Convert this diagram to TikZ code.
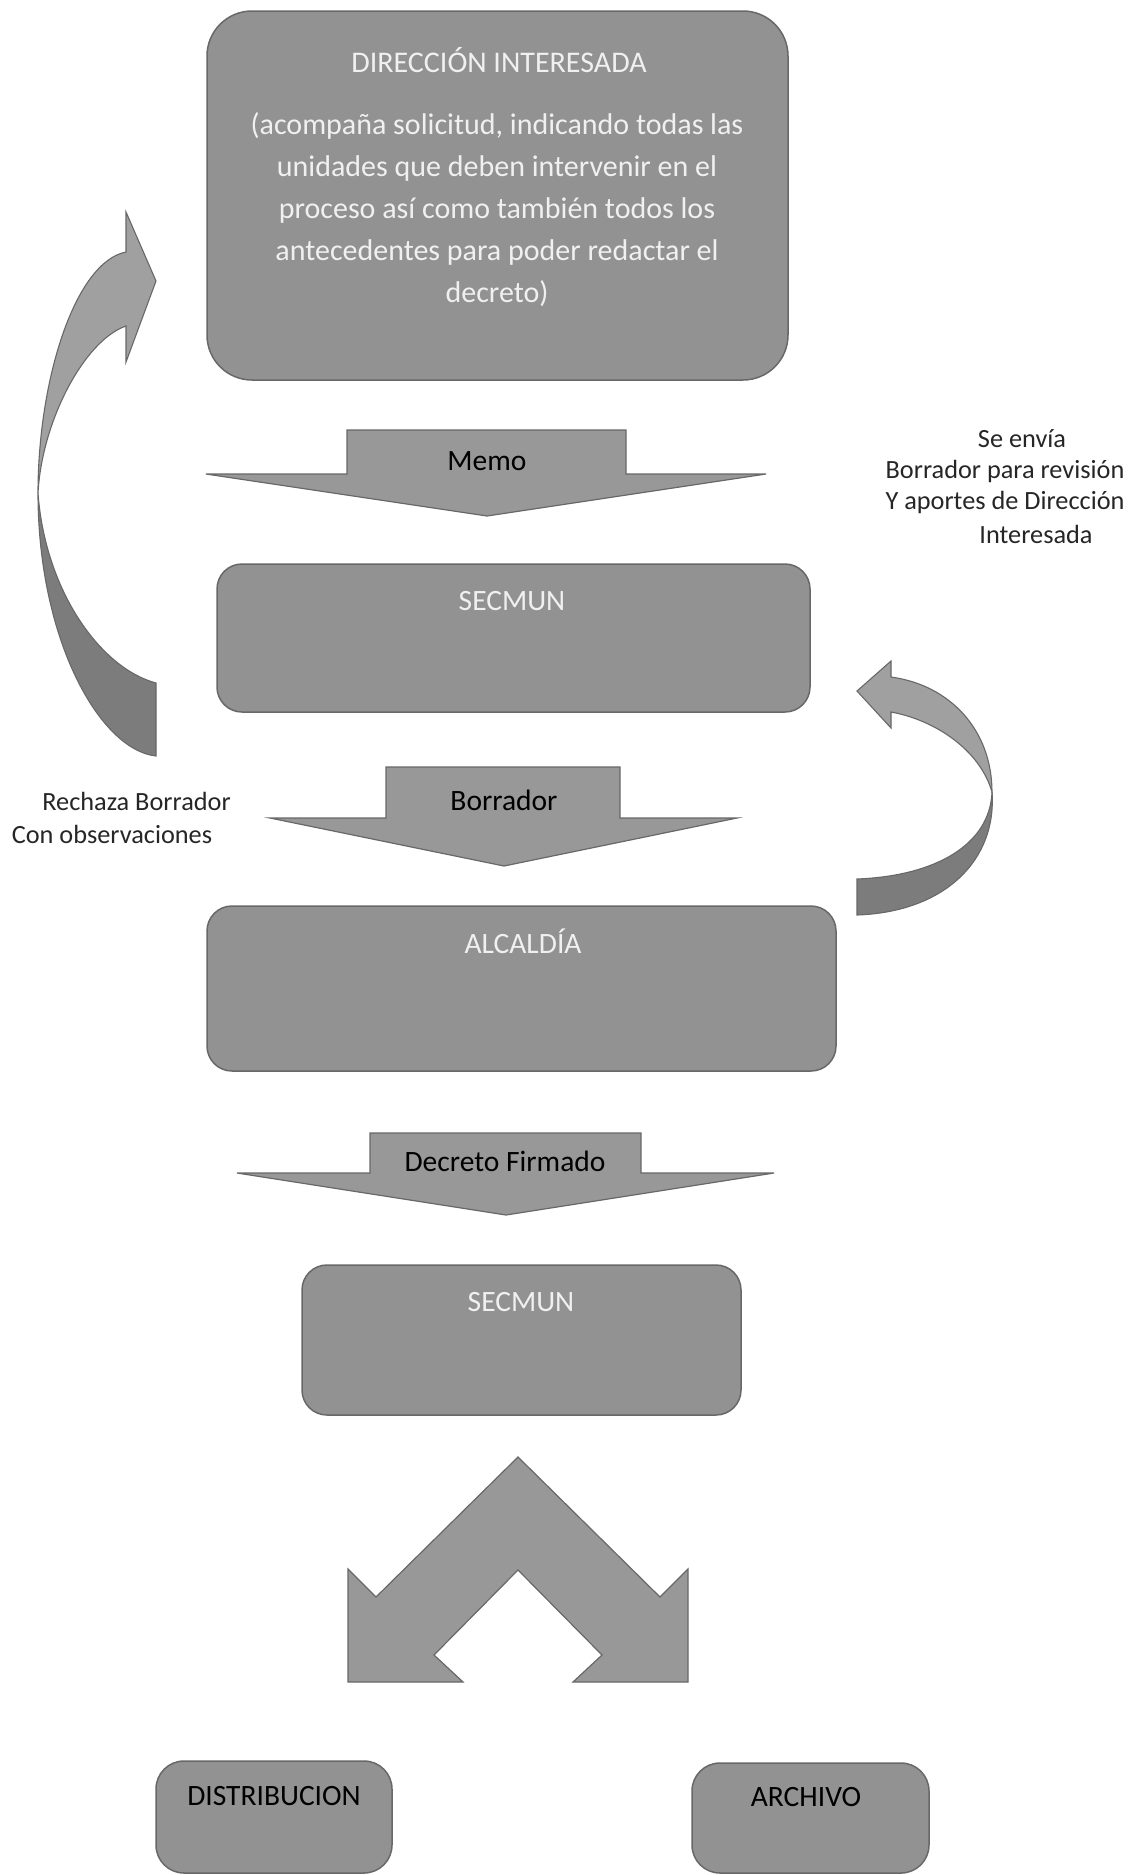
\documentclass[tikz,border=0pt]{standalone}
\usepackage{fontspec}
\setmainfont{Carlito}
\usetikzlibrary{calc}
\definecolor{boxgray}{HTML}{929292}
\definecolor{arrgray}{HTML}{989898}
\definecolor{lightpart}{HTML}{A0A0A0}
\definecolor{darkpart}{HTML}{7C7C7C}
\definecolor{edgegray}{HTML}{686868}
\definecolor{boxtext}{HTML}{F0F0F0}
\tikzset{
  pbox/.style={draw=edgegray, line width=1.5pt, fill=boxgray, rounded corners=25pt, inner sep=0pt},
  blockarrow/.style={draw=edgegray, line width=1.2pt, fill=arrgray, line join=miter},
  lightribbon/.style={draw=edgegray, line width=1.1pt, fill=lightpart, line join=miter},
  darkribbon/.style={draw=edgegray, line width=1.1pt, fill=darkpart, line join=miter},
  whitetext/.style={text=boxtext, font=\fontsize{29.5}{36}\selectfont, inner sep=0pt},
  blacktext/.style={text=black, font=\fontsize{29.5}{36}\selectfont, inner sep=0pt},
  notetext/.style={text=black!85, font=\fontsize{26.3}{32}\selectfont, inner sep=0pt},
}
\begin{document}
\begin{tikzpicture}[x=1pt,y=-1pt]
\useasboundingbox[fill=white] (0,0) rectangle (1133,1875);

% ---------- boxes ----------
\node[pbox, rounded corners=45pt, minimum width=581pt, minimum height=369pt] (dir) at (497.5,195.5) {};
\node[pbox, minimum width=593pt, minimum height=148pt] (sec1) at (513.5,638) {};
\node[pbox, minimum width=629pt, minimum height=165pt] (alc) at (521.5,988.5) {};
\node[pbox, minimum width=439pt, minimum height=150pt] (sec2) at (521.5,1340) {};
\node[pbox, rounded corners=28pt, minimum width=236pt, minimum height=112pt] (dist) at (274,1817) {};
\node[pbox, rounded corners=28pt, minimum width=237pt, minimum height=110pt] (arch) at (810.5,1818) {};

% ---------- box texts ----------
\node[whitetext, font=\fontsize{30}{42}\selectfont] (dirtitle) at (499,60) {DIRECCIÓN INTERESADA};
\node[whitetext, align=center, font=\fontsize{30}{42}\selectfont] (dirbody) at (497,210)
  {(acompaña solicitud, indicando todas las\\unidades que deben intervenir en el\\proceso así como también todos los\\antecedentes para poder redactar el\\decreto)};
\node[whitetext] (sec1t) at (512,601) {SECMUN};
\node[whitetext] (alct) at (523,941) {ALCALDÍA};
\node[whitetext] (sec2t) at (521,1302) {SECMUN};
\node[blacktext] (distt) at (274,1796) {DISTRIBUCION};
\node[blacktext] (archt) at (806,1797) {ARCHIVO};

% ---------- block arrows ----------
\draw[blockarrow] (347,430) -- (626,430) -- (626,474) -- (766,474) -- (487,516) -- (206,474) -- (347,474) -- cycle;
\node[blacktext] (memo) at (487,461) {Memo};

\draw[blockarrow] (386,767) -- (620,767) -- (620,818) -- (737,818) -- (504,866) -- (270,818) -- (386,818) -- cycle;
\node[blacktext] (borr) at (504,800) {Borrador};

\draw[blockarrow] (370,1133) -- (641,1133) -- (641,1173) -- (774,1173) -- (506,1215) -- (237,1173) -- (370,1173) -- cycle;
\node[blacktext] (decr) at (505,1161) {Decreto Firmado};

% ---------- split arrow ----------
\draw[blockarrow] (518,1457) -- (660,1597) -- (688,1569) -- (688,1682) -- (573,1682) -- (602,1655)
  -- (518,1570) -- (434,1655) -- (463,1682) -- (348,1682) -- (348,1569) -- (376,1597) -- cycle;

% ---------- left curved arrow (return to Direccion Interesada) ----------
\draw[darkribbon] (38,493) .. controls (38,640) and (100,750) .. (156,756) -- (156,683)
  .. controls (100,668) and (45,590) .. (38,493) -- cycle;
\draw[lightribbon] (126,212) -- (156,281) -- (126,362) -- (126,326)
  .. controls (85,340) and (42,420) .. (38,493)
  .. controls (38,380) and (75,262) .. (126,252) -- cycle;

% ---------- right curved arrow (back to SECMUN) ----------
\draw[darkribbon] (992,792) .. controls (997,860) and (945,912) .. (857,915) -- (857,879)
  .. controls (935,876) and (990,845) .. (992,792) -- cycle;
\draw[lightribbon] (891,661) -- (857,691) -- (891,728) -- (891,712)
  .. controls (935,720) and (980,750) .. (992,792)
  .. controls (992,730) and (950,685) .. (891,677) -- cycle;

% ---------- annotations ----------
\node[notetext] (rightnote1) at (1022,439) {Se envía};
\node[notetext] (rightnote2) at (1005,471) {Borrador para revisión};
\node[notetext] (rightnote3) at (1005,502) {Y aportes de Dirección};
\node[notetext] (rightnote4) at (1036,534) {Interesada};

\node[notetext] (leftnote1) at (136.5,801) {Rechaza Borrador};
\node[notetext] (leftnote2) at (112,834) {Con observaciones};
\end{tikzpicture}
\end{document}
